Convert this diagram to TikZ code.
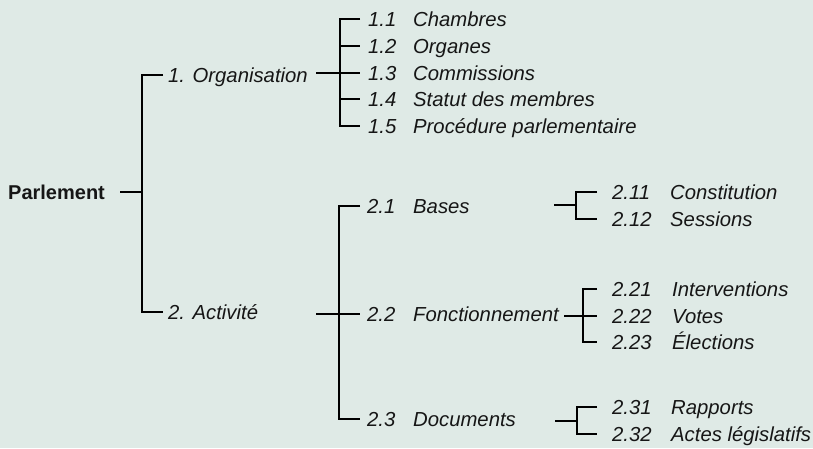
\documentclass[tikz,border=0pt]{standalone}
\usepackage{fontspec}
\setmainfont{Liberation Sans}
\definecolor{fond}{RGB}{223,234,230}
\definecolor{encre}{RGB}{22,22,22}
\begin{document}
\begin{tikzpicture}[x=1pt, y=-1pt, every node/.style={inner sep=0pt, anchor=west, text=encre, text height=14pt, text depth=0pt, font=\fontsize{20.3}{24}\selectfont\itshape}]
        \tikzset{
          branche/.style={line width=2pt, line join=miter},
          racine/.style={font=\fontsize{20}{24}\selectfont\bfseries},
        }
        \fill[fond] (0,0) rectangle (813,448);
        \useasboundingbox (0,0) rectangle (813,448);
        %
        \node [racine](parl) at (8,192) {Parlement};
        \node (org) at (168,75) {1. Organisation};
        \node (act) at (168,312) {2. Activité};
        \coordinate (sp0) at (142,192);
        \draw [branche] ([xshift=15pt]parl.east) -- (sp0);
        \draw [branche] ([xshift=-5pt]org.west) -| (sp0) |- ([xshift=-5pt]act.west);
        %
        \node (o11) at (368,19) {\makebox[45pt][l]{1.1}Chambres};
        \node (o12) at (368,46) {\makebox[45pt][l]{1.2}Organes};
        \node (o13) at (368,73) {\makebox[45pt][l]{1.3}Commissions};
        \node (o14) at (368,99) {\makebox[45pt][l]{1.4}Statut des membres};
        \node (o15) at (368,126) {\makebox[45pt][l]{1.5}Procédure parlementaire};
        \coordinate (st1) at (316,73);
        \coordinate (sp1) at (340,73);
        \draw [branche] (st1) -- ([xshift=-8pt]o13.west);
        \draw [branche] ([xshift=-8pt]o11.west) -| (sp1) |- ([xshift=-8pt]o15.west);
        \draw [branche] (o12.west -| sp1) -- ([xshift=-8pt]o12.west);
        \draw [branche] (o14.west -| sp1) -- ([xshift=-8pt]o14.west);
        %
        \node (a21) at (367,206) {\makebox[46pt][l]{2.1}Bases};
        \node (a22) at (367,314) {\makebox[46pt][l]{2.2}Fonctionnement};
        \node (a23) at (367,419) {\makebox[46pt][l]{2.3}Documents};
        \coordinate (st2) at (316,314);
        \coordinate (sp2) at (339,314);
        \draw [branche] (st2) -- ([xshift=-7pt]a22.west);
        \draw [branche] ([xshift=-7pt]a21.west) -| (sp2) |- ([xshift=-7pt]a23.west);
        %
        \node (b1) at (612,192) {\makebox[58pt][l]{2.11}Constitution};
        \node (b2) at (612,219) {\makebox[58pt][l]{2.12}Sessions};
        \coordinate (st21) at (554,205);
        \coordinate (sp21) at (576,205);
        \draw [branche] (st21) -- (sp21);
        \draw [branche] ([xshift=-15pt]b1.west) -| (sp21) |- ([xshift=-15pt]b2.west);
        %
        \node (f1) at (612,289) {\makebox[60pt][l]{2.21}Interventions};
        \node (f2) at (612,316) {\makebox[60pt][l]{2.22}Votes};
        \node (f3) at (612,342) {\makebox[60pt][l]{2.23}Élections};
        \coordinate (st22) at (564,316);
        \coordinate (sp22) at (583,316);
        \draw [branche] (st22) -- ([xshift=-15pt]f2.west);
        \draw [branche] ([xshift=-15pt]f1.west) -| (sp22) |- ([xshift=-15pt]f3.west);
        %
        \node (d1) at (612,407) {\makebox[59pt][l]{2.31}Rapports};
        \node (d2) at (612,434) {\makebox[59pt][l]{2.32}Actes législatifs};
        \coordinate (st23) at (555,421);
        \coordinate (sp23) at (577,421);
        \draw [branche] (st23) -- (sp23);
        \draw [branche] ([xshift=-15pt]d1.west) -| (sp23) |- ([xshift=-15pt]d2.west);
    \end{tikzpicture}
\end{document}
